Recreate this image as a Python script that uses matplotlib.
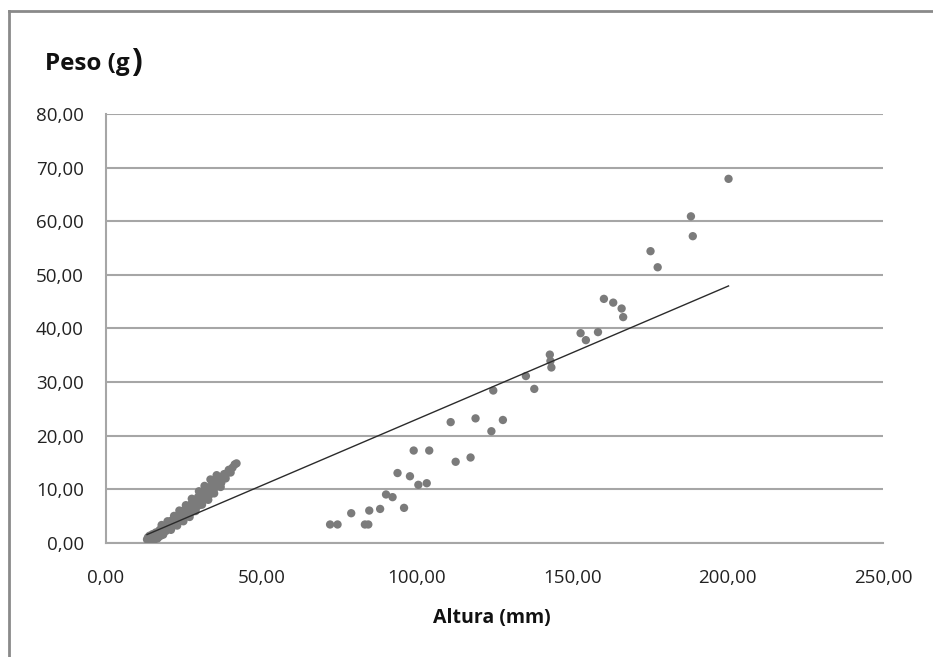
import matplotlib
matplotlib.use("Agg")
import matplotlib.pyplot as plt
from matplotlib.lines import Line2D
from matplotlib.ticker import FuncFormatter, MultipleLocator

# juvenile cluster (Altura mm, Peso g)
altura_peq = [13.2, 13.5, 13.8, 14.0, 14.2, 14.3, 14.5, 14.8, 15.0, 15.3, 15.5, 15.6,
              15.8, 16.0, 16.3, 16.5, 16.7, 16.8, 17.0, 17.3, 17.6, 18.0, 18.2, 18.5,
              18.8, 19.0, 19.3, 19.6, 20.0, 20.3, 20.6, 21.0, 21.3, 21.6, 22.0, 22.3,
              22.7, 23.0, 23.4, 23.8, 24.1, 24.5, 24.8, 25.2, 25.5, 25.9, 26.3, 26.6,
              27.0, 27.4, 27.8, 28.1, 28.5, 28.9, 29.3, 29.6, 30.0, 30.4, 30.8, 31.1,
              31.5, 31.9, 32.3, 32.7, 33.0, 33.4, 33.8, 34.2, 34.6, 35.0, 35.4, 35.8,
              36.2, 36.7, 37.1, 37.6, 38.0, 38.5, 39.0, 39.5, 40.1, 40.7, 41.4, 42.0,
              17.9, 19.8, 21.9, 23.6, 25.7, 27.6, 29.9, 31.7, 33.6, 35.6, 18.4, 20.9,
              22.9, 24.9, 26.9, 28.8, 30.9, 32.9, 34.8, 36.9]
peso_peq = [0.6, 1.0, 0.5, 1.3, 0.8, 0.3, 0.4, 1.1, 1.6, 0.7, 1.3, 0.6,
            0.9, 1.9, 1.2, 0.8, 0.9, 2.0, 1.5, 2.4, 1.3, 2.1, 2.8, 1.9,
            2.5, 3.2, 2.2, 2.9, 3.6, 2.6, 3.3, 4.1, 3.0, 3.8, 4.5, 3.4,
            4.2, 5.0, 3.9, 4.8, 5.6, 4.4, 5.3, 6.1, 4.8, 5.8, 6.6, 5.2,
            6.3, 7.2, 5.8, 6.9, 7.8, 6.4, 7.4, 8.5, 7.0, 8.0, 9.1, 7.7,
            8.7, 9.7, 8.3, 9.4, 10.3, 9.0, 10.0, 11.0, 9.8, 10.7, 11.6, 10.5,
            11.4, 12.2, 11.2, 12.1, 12.8, 12.0, 13.0, 13.6, 13.1, 14.0, 14.6, 14.8,
            3.3, 4.0, 5.0, 6.0, 7.0, 8.2, 9.6, 10.6, 11.8, 12.6, 1.5, 2.4,
            3.2, 4.0, 4.8, 5.9, 7.1, 8.0, 9.2, 10.4]

# adult fish
altura_gde = [72.1, 74.5, 78.9, 83.3, 84.4, 84.7, 88.2, 90.1, 92.2, 93.8, 95.9, 97.8,
              99.0, 100.5, 103.2, 104.0, 110.9, 112.5, 117.3, 118.9, 124.0, 124.6, 127.7,
              135.1, 137.8, 142.8, 143.0, 143.3, 152.7, 154.4, 158.3, 160.2, 163.2,
              165.9, 166.4, 175.2, 177.5, 188.2, 188.8, 200.3]
peso_gde = [3.4, 3.4, 5.5, 3.4, 3.4, 6.0, 6.3, 9.0, 8.5, 13.0, 6.5, 12.4,
            17.2, 10.8, 11.1, 17.2, 22.5, 15.1, 15.9, 23.2, 20.8, 28.4, 22.9,
            31.1, 28.7, 35.1, 33.9, 32.7, 39.1, 37.8, 39.3, 45.5, 44.8,
            43.7, 42.1, 54.4, 51.4, 60.9, 57.2, 67.9]

# linear trendline
trend_slope = 0.248
trend_intercept = -1.76

altura = altura_peq + altura_gde
peso = peso_peq + peso_gde

FONT = "Open Sans"
GRID = "#a6a6a6"


def virgula(v, _pos):
    return f"{v:.2f}".replace(".", ",")


def main() -> None:
    fig = plt.figure(figsize=(9.33, 6.57), dpi=100)
    ax = fig.add_axes([106 / 933, 1 - 542.7 / 657, 777 / 933, 428.7 / 657])

    ax.scatter(altura, peso, s=36, color="#7b7b7b", edgecolors="none", zorder=3)

    x0, x1 = min(altura), max(altura)
    ax.plot([x0, x1], [trend_slope * x0 + trend_intercept, trend_slope * x1 + trend_intercept],
            color="#2b2b2b", lw=1.0, zorder=4)

    ax.set_xlim(0, 250)
    ax.set_ylim(0, 80)
    ax.xaxis.set_major_locator(MultipleLocator(50))
    ax.yaxis.set_major_locator(MultipleLocator(10))
    ax.xaxis.set_major_formatter(FuncFormatter(virgula))
    ax.yaxis.set_major_formatter(FuncFormatter(virgula))
    ax.grid(axis="y", color=GRID, lw=1.5)
    ax.set_axisbelow(True)
    for side in ("top", "right"):
        ax.spines[side].set_visible(False)
    for side in ("left", "bottom"):
        ax.spines[side].set_color(GRID)
        ax.spines[side].set_linewidth(1.5)
    ax.tick_params(length=0, labelsize=13.5, labelcolor="#222222")
    ax.tick_params(axis="y", pad=16)
    ax.tick_params(axis="x", pad=19)
    for lab in ax.get_xticklabels() + ax.get_yticklabels():
        lab.set_fontfamily(FONT)

    fig.text(492 / 933, 1 - 618 / 657, "Altura (mm)", ha="center", va="center",
             fontsize=14, fontweight="bold", family=FONT, color="#111111")
    fig.text(45 / 933, 1 - 64 / 657, "Peso (g", ha="left", va="center",
             fontsize=17.5, fontweight="bold", family=FONT, color="#111111")
    fig.text(131 / 933, 1 - 62 / 657, ")", ha="left", va="center",
             fontsize=23, fontweight="bold", family=FONT, color="#111111")

    # outer chart frame (left and top edges visible)
    fig.add_artist(Line2D([9 / 933, 9 / 933], [0, 1 - 11 / 657], transform=fig.transFigure,
                          color="#8a8a8a", lw=2))
    fig.add_artist(Line2D([9 / 933, 1], [1 - 11 / 657, 1 - 11 / 657], transform=fig.transFigure,
                          color="#8a8a8a", lw=2))

    fig.savefig("out.png", dpi=100)
    plt.close(fig)


if __name__ == "__main__":
    main()
